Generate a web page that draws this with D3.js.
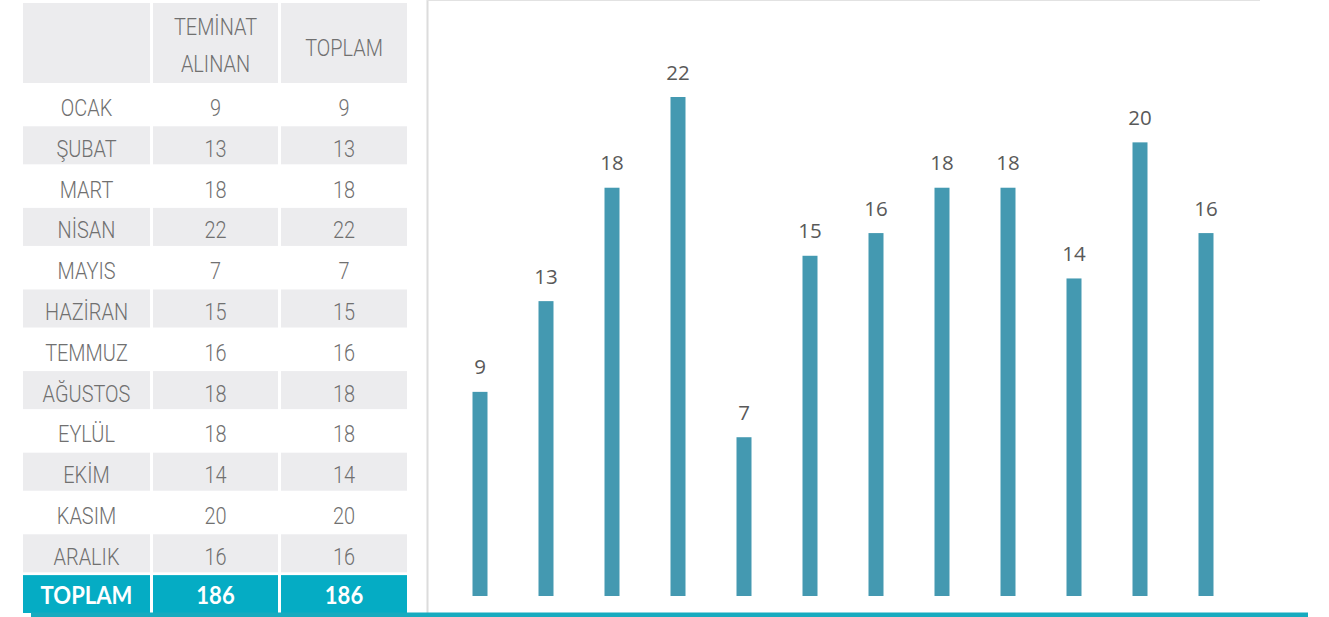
<!DOCTYPE html>
<html>
<head>
<meta charset="utf-8">
<script src="https://cdn.jsdelivr.net/npm/d3@7"></script>
<style>
  body { margin: 0; background: #fff; }
</style>
</head>
<body>
<div id="chart-area"></div>
<script>
// data
const months = ["OCAK", "ŞUBAT", "MART", "NİSAN", "MAYIS", "HAZİRAN", "TEMMUZ",
                "AĞUSTOS", "EYLÜL", "EKİM", "KASIM", "ARALIK"];
const teminatValues = [9, 13, 18, 22, 7, 15, 16, 18, 18, 14, 20, 16];
const toplamValues = [9, 13, 18, 22, 7, 15, 16, 18, 18, 14, 20, 16];
const headerCol2 = ["TEMİNAT", "ALINAN"];
const headerCol3 = "TOPLAM";
const totalLabel = "TOPLAM";
const totalTeminat = 186;
const totalToplam = 186;

// canvas size
const svgWidth = 1329,
      svgHeight = 617;

const grey = "#ececee",
      teal = "#05acc4",
      barColor = "#4499b1",
      textGrey = "#707070";

const tableFont = "Roboto, sans-serif";
const squeeze = 0.83;   // table font is a condensed face

var svg = d3.select("#chart-area").append("svg")
    .attr("width", svgWidth)
    .attr("height", svgHeight);

// condensed-looking text: translate to anchor point then squeeze horizontally
function cellText(parent, x, y, txt){
    return parent.append("text")
        .attr("transform", "translate(" + x + "," + y + ") scale(" + squeeze + ",1)")
        .attr("text-anchor", "middle")
        .attr("font-family", tableFont)
        .attr("font-weight", 300)
        .attr("font-size", "24px")
        .attr("fill", textGrey)
        .text(txt);
}

// ---------------- table ----------------
var cols = [{ x: 23, w: 127 }, { x: 153, w: 125 }, { x: 281, w: 126 }];
var rowTop = function(i){ return 85.5 + 40.8 * i; };
var rowH = 38;

var table = svg.append("g").attr("class", "table");

// header
cols.forEach(function(c){
    table.append("rect")
        .attr("x", c.x).attr("y", 3)
        .attr("width", c.w).attr("height", 80)
        .attr("fill", grey);
});
headerCol2.forEach(function(h, i){
    cellText(table, cols[1].x + cols[1].w / 2, 35 + i * 37, h);
});
cellText(table, cols[2].x + cols[2].w / 2, 56, headerCol3);

// body rows
var rows = table.selectAll("g.row")
    .data(months)
    .enter().append("g")
    .attr("class", "row")
    .attr("transform", function(d, i){ return "translate(0," + rowTop(i) + ")"; });

rows.each(function(d, i){
    var r = d3.select(this);
    var cells = [d, teminatValues[i], toplamValues[i]];
    cols.forEach(function(c, j){
        if (i % 2 === 1) {
            r.append("rect")
                .attr("x", c.x).attr("y", 0)
                .attr("width", c.w).attr("height", rowH)
                .attr("fill", grey);
        }
        cellText(r, c.x + c.w / 2, 30.5, cells[j]);
    });
});

// total row
var totalCells = [totalLabel, totalTeminat, totalToplam];
var totalTop = rowTop(12);
cols.forEach(function(c, j){
    table.append("rect")
        .attr("x", c.x).attr("y", totalTop)
        .attr("width", c.w).attr("height", 613 - totalTop)
        .attr("fill", teal);
    table.append("text")
        .attr("transform", "translate(" + (c.x + c.w / 2) + "," + (totalTop + 28.5) + ") scale(0.92,1)")
        .attr("text-anchor", "middle")
        .attr("font-family", "Lato, sans-serif")
        .attr("font-weight", "bold")
        .attr("font-size", "24px")
        .attr("fill", "#fff")
        .text(totalCells[j]);
});

// ---------------- bar chart ----------------
var chart = svg.append("g").attr("class", "chart");

// frame
chart.append("line")
    .attr("x1", 427.5).attr("x2", 427.5)
    .attr("y1", 0).attr("y2", 613)
    .attr("stroke", "#dcdcdc")
    .attr("stroke-width", 2);
chart.append("line")
    .attr("x1", 427).attr("x2", 1260)
    .attr("y1", 0.5).attr("y2", 0.5)
    .attr("stroke", "#e2e2e2")
    .attr("stroke-width", 1);

// scales
var xScale = d3.scalePoint()
    .domain(months)
    .range([480, 1206]);
var yScale = d3.scaleLinear()
    .domain([0, 22])
    .range([596, 97]);

var barW = 15;

chart.selectAll("rect.bar")
    .data(teminatValues)
    .enter().append("rect")
    .attr("class", "bar")
    .attr("x", function(d, i){ return xScale(months[i]) - barW / 2; })
    .attr("y", function(d){ return yScale(d); })
    .attr("width", barW)
    .attr("height", function(d){ return yScale(0) - yScale(d); })
    .attr("fill", barColor);

chart.selectAll("text.label")
    .data(teminatValues)
    .enter().append("text")
    .attr("class", "label")
    .attr("x", function(d, i){ return xScale(months[i]); })
    .attr("y", function(d){ return yScale(d) - 17.5; })
    .attr("text-anchor", "middle")
    .attr("font-family", "'Open Sans', sans-serif")
    .attr("font-size", "20.5px")
    .attr("fill", "#595959")
    .text(function(d){ return d; });

// bottom teal line
svg.append("rect")
    .attr("x", 31).attr("y", 612.5)
    .attr("width", 1308 - 31).attr("height", 4.5)
    .attr("fill", "#17abbf");
</script>
</body>
</html>
